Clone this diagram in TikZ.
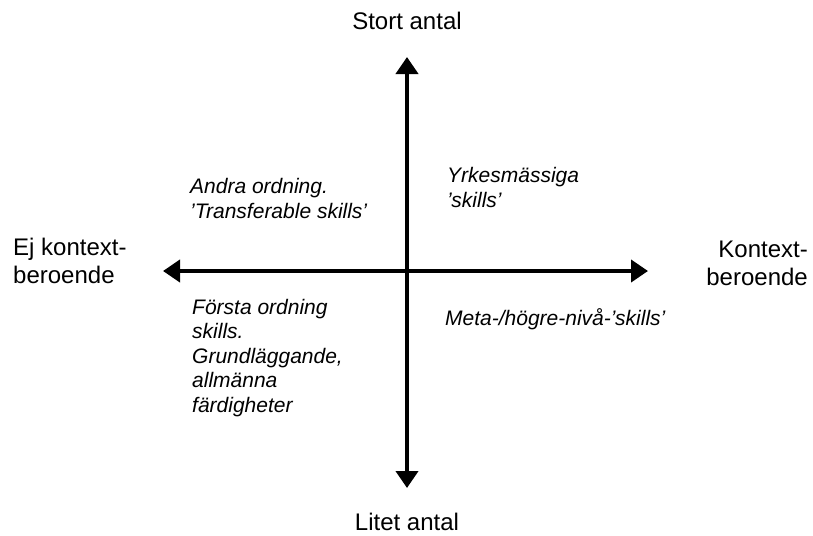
\documentclass[tikz,border=0pt]{standalone}
\usepackage{fontspec}
\setmainfont{Liberation Sans}
\usetikzlibrary{arrows.meta}
\begin{document}
\begin{tikzpicture}[x=1pt,y=-1pt,
  axis/.style={line width=4pt,{Triangle[length=17pt,width=22pt]}-{Triangle[length=17pt,width=22pt]}},
  axlabel/.style={inner sep=0pt,font=\fontsize{24}{28}\selectfont},
  quadlabel/.style={inner sep=0pt,align=left,anchor=base west,font=\fontsize{21}{24.5}\selectfont\itshape}]
  \useasboundingbox (0,0) rectangle (813,535);
  % axis end points
  \coordinate (top) at (407,57);
  \coordinate (bottom) at (407,488);
  \coordinate (left) at (163,271);
  \coordinate (right) at (648,271);
  % the two axes
  \draw[axis] (bottom) -- (top);
  \draw[axis] (left) -- (right);
  % axis labels (multi-line nodes are placed by the baseline of their last line)
  \node[axlabel,anchor=base] (stort) at (407,30) {Stort antal};
  \node[axlabel,anchor=base] (litet) at (407,530) {Litet antal};
  \node[axlabel,anchor=base west,align=left] (ejkontext) at (13,283) {Ej kontext-\\beroende};
  \node[axlabel,anchor=base east,align=right] (kontext) at (808,285) {Kontext-\\beroende};
  % quadrant labels
  \node[quadlabel] (andra) at (190,218) {Andra ordning.\\’Transferable skills’};
  \node[quadlabel] (yrkes) at (447,207) {Yrkesmässiga\\’skills’};
  \node[quadlabel] (forsta) at (192,412) {Första ordning\\skills.\\Grundläggande,\\allmänna\\färdigheter};
  \node[quadlabel] (meta) at (445,325) {Meta-/högre-nivå-’skills’};
\end{tikzpicture}
\end{document}
